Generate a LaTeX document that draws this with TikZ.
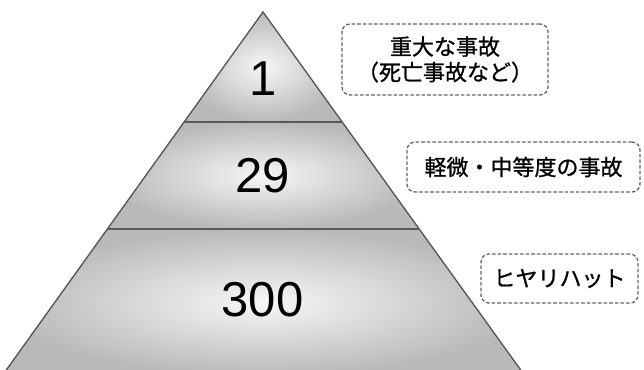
\documentclass[tikz,border=0pt]{standalone}
\usepackage{fontspec}
\setmainfont{Liberation Sans}
\newfontfamily\jpfont[FakeBold=0.9]{Noto Sans CJK JP}
\usetikzlibrary{calc}
\tikzset{
  band/.style={shading=radial, inner color=gray!7, outer color=gray!55},
  edge/.style={draw=black!68, line width=1.3pt},
  divider/.style={draw=black!65, line width=2.6pt},
  num/.style={inner sep=0pt, font=\fontsize{49}{49}\selectfont, text=black},
  tag/.style={draw=black!60, dashed, dash pattern=on 3.6pt off 2pt, line width=1.3pt,
    rounded corners=8pt, align=center, inner sep=0pt,
    font=\jpfont\fontsize{22}{25.5}\selectfont, text=black},
}
\begin{document}
\begin{tikzpicture}[x=1pt,y=-1pt]
\useasboundingbox (0,0) rectangle (644,369);
\fill[white] (0,0) rectangle (644,369);
\coordinate (A) at (263,12);
\coordinate (BL) at (7,369);
\coordinate (BR) at (520,369);
\coordinate (L1) at ($(A)!0.3081!(BL)$);
\coordinate (R1) at ($(A)!0.3081!(BR)$);
\coordinate (L2) at ($(A)!0.6078!(BL)$);
\coordinate (R2) at ($(A)!0.6078!(BR)$);
\coordinate (BLx) at ($(A)!1.02!(BL)$);
\coordinate (BRx) at ($(A)!1.02!(BR)$);
% bands
\path[band] (A) -- (R1) -- (L1) -- cycle;
\path[band] (L1) -- (R1) -- (R2) -- (L2) -- cycle;
\path[band] (L2) -- (R2) -- (BRx) -- (BLx) -- cycle;
% outline
\draw[edge] (BLx) -- (A) -- (BRx);
\draw[divider] (L1) -- (R1);
\draw[divider] (L2) -- (R2);
% numbers
\node[num] (n1) at (263,79) {1};
\node[num] (n29) at (262.5,176) {29};
\node[num] (n300) at (262.5,299.5) {300};
% tags
\node[tag, minimum width=206pt, minimum height=71pt] (t1) at (445,59.5) {重大な事故\\（死亡事故など）};
\node[tag, minimum width=233pt, minimum height=50pt] (t2) at (523.5,167) {軽微・中等度の事故};
\node[tag, minimum width=157pt, minimum height=49pt] (t3) at (559.5,278.5) {ヒヤリハット};
\end{tikzpicture}
\end{document}
